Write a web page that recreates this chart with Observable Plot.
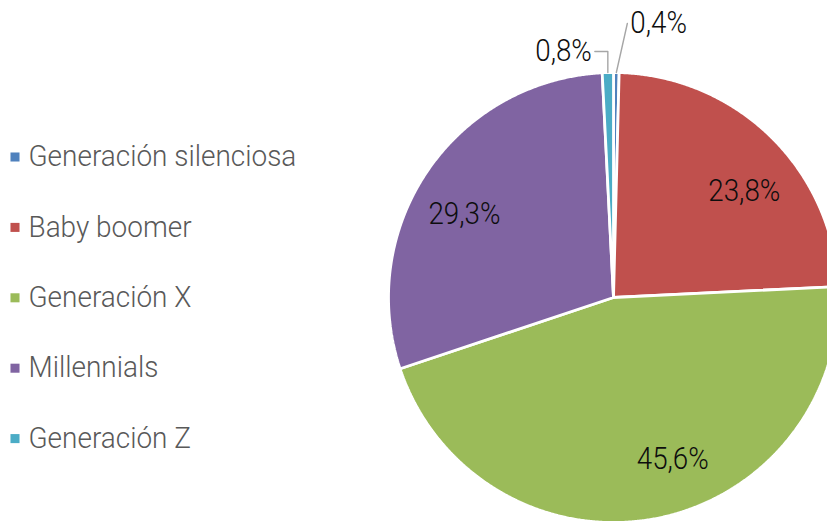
<!DOCTYPE html>
<html>
<head>
<meta charset="utf-8">
<script src="https://cdn.jsdelivr.net/npm/d3@7"></script>
<script src="https://cdn.jsdelivr.net/npm/@observablehq/plot@0.6"></script>
<style>
  html, body { margin: 0; padding: 0; background: #fff; }
  #chart { width: 827px; height: 523px; overflow: hidden; }
</style>
</head>
<body>
<div id="chart"></div>
<script>
// ---- data ----
const categories = ["Generación silenciosa", "Baby boomer", "Generación X", "Millennials", "Generación Z"];
const shares = [0.4, 23.8, 45.6, 29.3, 0.8];
const valueLabels = ["0,4%", "23,8%", "45,6%", "29,3%", "0,8%"];
const colors = ["#4F81BD", "#C0504D", "#9BBB59", "#8064A2", "#4BACC6"];

// ---- layout ----
const W = 827, H = 523;
const cx = 613, cy = 297, R = 225;
const font = "Roboto, 'Liberation Sans', sans-serif";
// inside label placement (angle offset in degrees, radius fraction)
const insideLayout = {1: {da: 6.5, rf: 0.75}, 2: {da: -9.5, rf: 0.765}, 3: {da: -5, rf: 0.76}};
// outside label leader layout (pixel offsets from slice edge point)
const outsideLayout = {
  0: {pts: [[0, 0], [11, -49]], text: [14, -49.5], anchor: "start"},
  4: {pts: [[0, 0], [0, -21], [-13, -21]], text: [-16, -21.5], anchor: "end"}
};

const arcs = d3.pie().sort(null).value(d => d)(shares);
const polar = (a, r) => [cx + r * Math.sin(a), cy - r * Math.cos(a)];

// slice polygons
const slicePts = [];
arcs.forEach((a, i) => {
  const n = Math.max(4, Math.ceil((a.endAngle - a.startAngle) * 180));
  slicePts.push({name: categories[i], p: [cx, cy]});
  for (let k = 0; k <= n; k++) {
    const t = a.startAngle + (a.endAngle - a.startAngle) * k / n;
    slicePts.push({name: categories[i], p: polar(t, R)});
  }
});

// inside labels
const inside = [];
Object.entries(insideLayout).forEach(([i, L]) => {
  const a = arcs[i];
  const mid = (a.startAngle + a.endAngle) / 2 + L.da * Math.PI / 180;
  const [x, y] = polar(mid, R * L.rf);
  inside.push({x, y, text: valueLabels[i]});
});

// outside labels & leaders
const leaders = [];
const outStart = [], outEnd = [];
Object.entries(outsideLayout).forEach(([i, L]) => {
  const a = arcs[i];
  const mid = (a.startAngle + a.endAngle) / 2;
  const [ex, ey] = polar(mid, R);
  L.pts.forEach(([dx, dy]) => leaders.push({id: i, x: ex + dx, y: ey + dy}));
  const item = {x: ex + L.text[0], y: ey + L.text[1], text: valueLabels[i]};
  (L.anchor === "start" ? outStart : outEnd).push(item);
});

// legend
const legendTop = 156.5, legendStep = 70.4;
const legend = categories.map((c, i) => ({name: c, y: legendTop + i * legendStep}));

const valueText = (data, anchor, cls) => Plot.text(data, {x: "x", y: "y", text: "text",
  fill: "#0D0D0D", fontSize: 32, fontWeight: 300, fontFamily: font, textAnchor: anchor, className: cls});

const plot = Plot.plot({
  width: W, height: H,
  margin: 0,
  x: {domain: [0, W], range: [0, W], axis: null},
  y: {domain: [0, H], range: [0, H], axis: null},
  color: {domain: categories, range: colors},
  style: {background: "white", overflow: "hidden"},
  marks: [
    Plot.line(slicePts, {x: d => d.p[0], y: d => d.p[1], z: "name", fill: "name",
      stroke: "white", strokeWidth: 2.8, strokeLinejoin: "miter", curve: "linear-closed"}),
    Plot.line(leaders, {x: "x", y: "y", z: "id", stroke: "#A6A6A6", strokeWidth: 1.4}),
    valueText(inside, "middle", "vlab"),
    valueText(outStart, "start", "vlab"),
    valueText(outEnd, "end", "vlab"),
    Plot.dot(legend, {x: 14.5, y: "y", symbol: "square", r: 5.1, fill: "name", stroke: null}),
    Plot.text(legend, {x: 28, y: "y", text: "name", fill: "#595959", fontSize: 29, fontWeight: 300,
      fontFamily: font, textAnchor: "start", className: "leg"})
  ]
});
document.getElementById("chart").appendChild(plot);

// horizontal condensing of text to match the reference's narrow typeface
function condense(selector, refText, targetWidth) {
  const texts = Array.from(plot.querySelectorAll(selector + " text"));
  if (!texts.length) return;
  const ref = texts.find(t => t.textContent === refText) || texts[0];
  const w = ref.getComputedTextLength();
  if (!w) return;
  const f = targetWidth / w;
  texts.forEach(t => {
    const tr = t.getAttribute("transform") || "";
    t.setAttribute("transform", tr + ` scale(${f},1)`);
  });
}
// "29,3%" is ~72px wide; "Generación silenciosa" ~268px wide
condense(".vlab", "29,3%", 72);
condense(".leg", "Generación silenciosa", 268);
</script>
</body>
</html>
